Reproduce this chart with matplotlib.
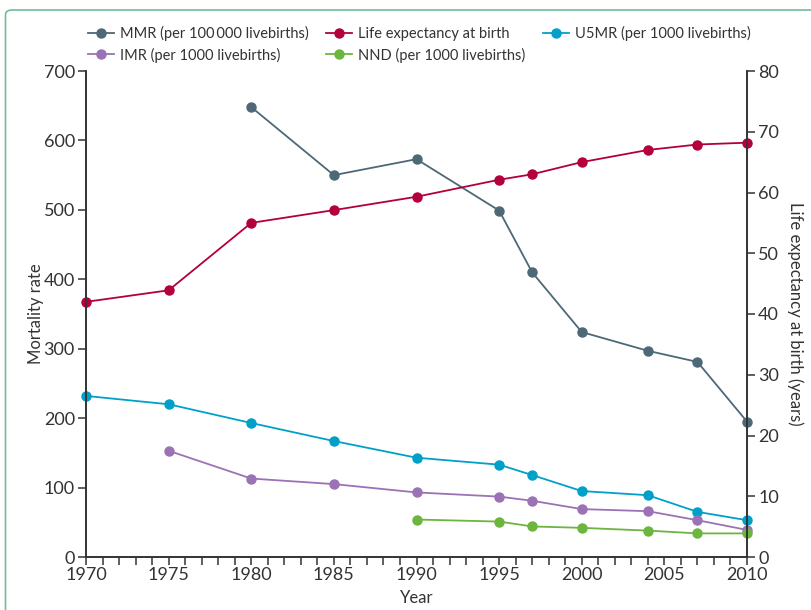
import matplotlib.pyplot as plt
from matplotlib.patches import FancyBboxPatch
from matplotlib.ticker import MultipleLocator

plt.rcParams['font.family'] = ['Lato', 'DejaVu Sans']

# data
years = [1970, 1975, 1980, 1985, 1990, 1995, 1997, 2000, 2004, 2007, 2010]
mmr_years = [1980, 1985, 1990, 1995, 1997, 2000, 2004, 2007, 2010]
mmr = [648, 550, 573, 499, 410, 324, 297, 281, 195]
life_exp = [42.0, 43.9, 55.0, 57.1, 59.3, 62.1, 63.0, 65.0, 67.0, 67.9, 68.2]
u5mr = [232, 220, 193, 167, 143, 133, 118, 95, 89, 65, 53]
imr_years = [1975, 1980, 1985, 1990, 1995, 1997, 2000, 2004, 2007, 2010]
imr = [153, 113, 105, 93, 87, 81, 69, 66, 53, 39]
nnd_years = [1990, 1995, 1997, 2000, 2004, 2007, 2010]
nnd = [54, 51, 44, 42, 38, 34, 34]

c_mmr = '#4d6876'
c_le = '#b4003a'
c_u5 = '#00a0c8'
c_imr = '#9a72b5'
c_nnd = '#6cb53f'
axis_col = '#333333'

fig = plt.figure(figsize=(8.12, 6.1), dpi=100)
ax = fig.add_axes([86 / 812, 53 / 610, 661 / 812, 486 / 610])
ax2 = ax.twinx()

kw = dict(lw=1.3, marker='o', ms=6.5, clip_on=False)
l_mmr, = ax.plot(mmr_years, mmr, color=c_mmr, label='MMR (per 100\u2009000 livebirths)', **kw)
l_u5, = ax.plot(years, u5mr, color=c_u5, label='U5MR (per 1000 livebirths)', **kw)
l_imr, = ax.plot(imr_years, imr, color=c_imr, label='IMR (per 1000 livebirths)', **kw)
l_nnd, = ax.plot(nnd_years, nnd, color=c_nnd, label='NND (per 1000 livebirths)', **kw)
l_le, = ax2.plot(years, life_exp, color=c_le, label='Life expectancy at birth', **kw)

ax.set_xlim(1970, 2010)
ax.set_ylim(0, 700)
ax2.set_ylim(0, 80)
ax.xaxis.set_major_locator(MultipleLocator(5))
ax.xaxis.set_minor_locator(MultipleLocator(1))
ax.yaxis.set_major_locator(MultipleLocator(100))
ax2.yaxis.set_major_locator(MultipleLocator(10))

for a in (ax, ax2):
    a.spines['top'].set_visible(False)
    for s in a.spines.values():
        s.set_color(axis_col)
        s.set_linewidth(1.2)
    a.tick_params(which='both', direction='out', length=6, width=1.1,
                  color=axis_col, labelcolor=axis_col, labelsize=13, pad=2)
ax.tick_params(axis='x', pad=1)

ax.set_xlabel('Year', fontsize=12, color=axis_col, labelpad=5)
ax.set_ylabel('Mortality rate', fontsize=12, color=axis_col, labelpad=0)
ax2.set_ylabel('Life expectancy at birth (years)', fontsize=12, color=axis_col,
               rotation=270, labelpad=18)

handles = [l_mmr, l_imr, l_le, l_nnd, l_u5]
fig.legend(handles=handles, loc='upper left', bbox_to_anchor=(82 / 812, 1 - 20 / 610),
           ncol=3, frameon=False, fontsize=10.5, handlelength=1.8, handletextpad=0.4,
           columnspacing=1.2, labelspacing=0.45, borderaxespad=0, labelcolor=axis_col)

# green frame visible at left and top edges
frame = FancyBboxPatch((5.5 / 812, -0.1), 1.2, 1.1 - 10 / 610,
                       boxstyle='round,pad=0,rounding_size=0.008',
                       transform=fig.transFigure, fill=False,
                       edgecolor='#6cbf97', lw=1.2)
fig.patches.append(frame)

fig.savefig('out.png', dpi=100)
